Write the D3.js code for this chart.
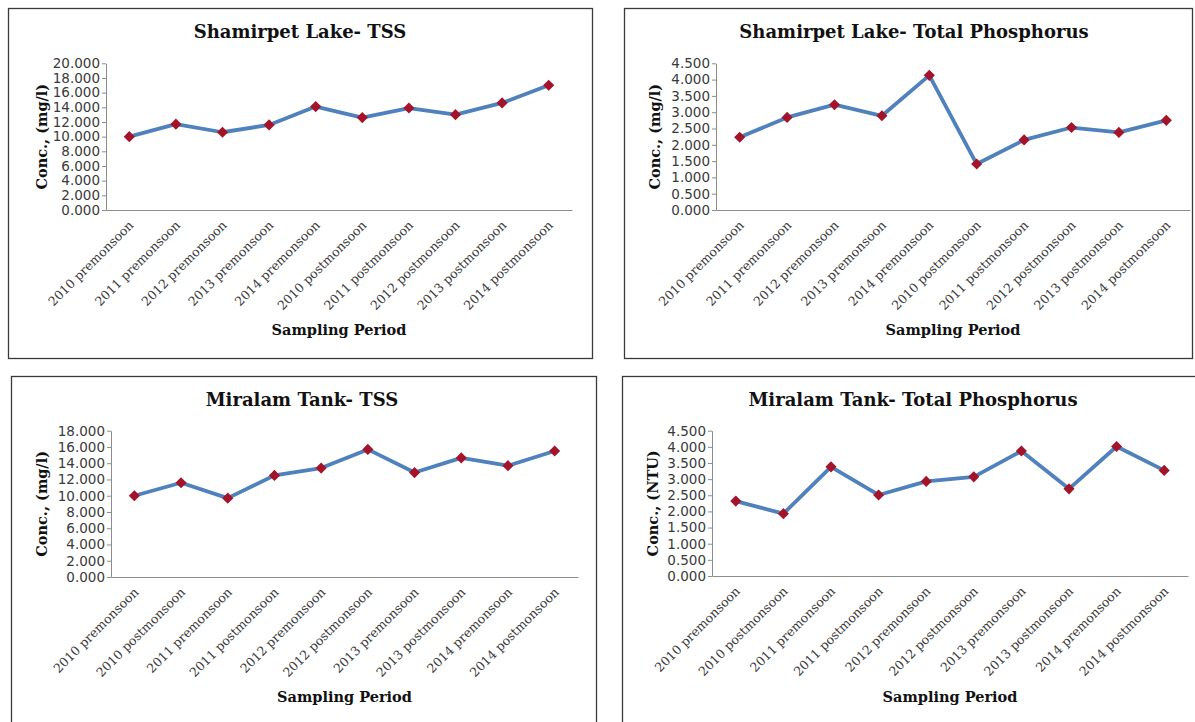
<!DOCTYPE html>
<html>
<head>
<meta charset="utf-8">
<script src="https://cdn.jsdelivr.net/npm/d3@7"></script>
<style>
  html, body { margin: 0; padding: 0; background: #fff; }
  svg { display: block; }
</style>
</head>
<body>
<svg id="chart" width="1195" height="722"></svg>
<script>
// ---------------- DATA ----------------
const catsShamirpet = [
  "2010 premonsoon", "2011 premonsoon", "2012 premonsoon", "2013 premonsoon", "2014 premonsoon",
  "2010 postmonsoon", "2011 postmonsoon", "2012 postmonsoon", "2013 postmonsoon", "2014 postmonsoon"
];
const catsMiralam = [
  "2010 premonsoon", "2010 postmonsoon", "2011 premonsoon", "2011 postmonsoon", "2012 premonsoon",
  "2012 postmonsoon", "2013 premonsoon", "2013 postmonsoon", "2014 premonsoon", "2014 postmonsoon"
];
const shamirpetTSS = [10.0, 11.7, 10.6, 11.6, 14.1, 12.6, 13.9, 13.0, 14.6, 17.0];
const shamirpetTP  = [2.23, 2.84, 3.23, 2.89, 4.13, 1.41, 2.15, 2.53, 2.38, 2.75];
const miralamTSS   = [10.0, 11.6, 9.7, 12.5, 13.4, 15.7, 12.85, 14.65, 13.7, 15.5];
const miralamTP    = [2.32, 1.93, 3.38, 2.51, 2.93, 3.07, 3.87, 2.70, 4.01, 3.27];

const ticksTSS20 = [0, 2, 4, 6, 8, 10, 12, 14, 16, 18, 20];
const ticksTSS18 = [0, 2, 4, 6, 8, 10, 12, 14, 16, 18];
const ticksTP    = [0, 0.5, 1, 1.5, 2, 2.5, 3, 3.5, 4, 4.5];

const titles = [
  "Shamirpet Lake- TSS", "Shamirpet Lake- Total Phosphorus",
  "Miralam Tank- TSS", "Miralam Tank- Total Phosphorus"
];
const yTitles = ["Conc., (mg/l)", "Conc., (mg/l)", "Conc., (mg/l)", "Conc., (NTU)"];
const xTitle = "Sampling Period";

// ---------------- LAYOUT ----------------
const panels = [
  { box: [8, 8, 592, 358],   plot: [106, 63.3, 572, 210], yTitleX: 42,  titleX: 300, titleY: 38,  xTitleY: 335,
    cats: catsShamirpet, values: shamirpetTSS, ticks: ticksTSS20, title: titles[0], yTitle: yTitles[0] },
  { box: [624, 8, 1192, 358], plot: [716, 63.3, 1190, 210], yTitleX: 655, titleX: 914, titleY: 38, xTitleY: 335,
    cats: catsShamirpet, values: shamirpetTP, ticks: ticksTP, title: titles[1], yTitle: yTitles[1] },
  { box: [11, 376, 596, 740], plot: [111, 430.7, 578, 577], yTitleX: 42,  titleX: 302, titleY: 406, xTitleY: 702,
    cats: catsMiralam, values: miralamTSS, ticks: ticksTSS18, title: titles[2], yTitle: yTitles[2] },
  { box: [622, 376, 1200, 740], plot: [712, 430.7, 1188, 576], yTitleX: 653, titleX: 913, titleY: 406, xTitleY: 702,
    cats: catsMiralam, values: miralamTP, ticks: ticksTP, title: titles[3], yTitle: yTitles[3] }
];

const svg = d3.select("#chart");
const lineColor = "#4F81BD";
const markerColor = "#A3142A";
const axisColor = "#8C8C8C";
const textColor = "#3a3a3a";

panels.forEach(p => {
  const g = svg.append("g");
  const [bx0, by0, bx1, by1] = p.box;
  g.append("rect")
    .attr("x", bx0 + 0.5).attr("y", by0 + 0.5)
    .attr("width", bx1 - bx0).attr("height", by1 - by0)
    .attr("fill", "#fff").attr("stroke", "#3a3a3a").attr("stroke-width", 1.3);

  const [px0, py0, px1, py1] = p.plot;
  const x = d3.scaleBand().domain(p.cats).range([px0, px1]);
  const y = d3.scaleLinear().domain([0, d3.max(p.ticks)]).range([py1, py0]);

  // Y axis
  const yAxis = g.append("g")
    .attr("transform", `translate(${px0},0)`)
    .call(d3.axisLeft(y).tickValues(p.ticks).tickFormat(d3.format(".3f")).tickSize(4).tickSizeOuter(0));
  yAxis.select(".domain").attr("stroke", axisColor);
  yAxis.selectAll(".tick line").attr("stroke", axisColor);
  yAxis.selectAll(".tick text")
    .attr("font-family", "DejaVu Sans, Verdana, sans-serif")
    .attr("font-size", "13.5px")
    .attr("fill", textColor)
    .attr("x", -6);

  // X axis
  const xAxis = g.append("g")
    .attr("transform", `translate(0,${py1})`)
    .call(d3.axisBottom(x).tickSize(0).tickSizeOuter(0));
  xAxis.select(".domain").attr("stroke", axisColor);
  xAxis.selectAll(".tick text")
    .attr("font-family", "DejaVu Serif, Georgia, serif")
    .attr("font-size", "12.5px")
    .attr("fill", textColor)
    .attr("text-anchor", "end")
    .attr("x", 0).attr("y", 0).attr("dy", 0)
    .attr("transform", "translate(5,16) rotate(-45)");

  // Line
  const pts = p.cats.map((c, i) => [x(c) + x.bandwidth() / 2, y(p.values[i])]);
  g.append("path")
    .attr("d", d3.line()(pts))
    .attr("fill", "none")
    .attr("stroke", lineColor)
    .attr("stroke-width", 3.8)
    .attr("stroke-linejoin", "round");

  // Markers
  const sym = d3.symbol(d3.symbolSquare, 62);
  g.selectAll(".mk").data(p.cats).join("path")
    .attr("d", sym)
    .attr("transform", (c, i) => `translate(${x(c) + x.bandwidth() / 2},${y(p.values[i])}) rotate(45)`)
    .attr("fill", markerColor);

  // Titles
  g.append("text")
    .attr("x", p.titleX).attr("y", p.titleY)
    .attr("text-anchor", "middle")
    .attr("font-family", "DejaVu Serif, Georgia, serif")
    .attr("font-weight", "bold")
    .attr("font-size", "18px")
    .attr("fill", "#111")
    .text(p.title);

  g.append("text")
    .attr("transform", `translate(${p.yTitleX},${(py0 + py1) / 2}) rotate(-90)`)
    .attr("text-anchor", "middle")
    .attr("dy", "0.35em")
    .attr("font-family", "DejaVu Serif, Georgia, serif")
    .attr("font-weight", "bold")
    .attr("font-size", "14.5px")
    .attr("fill", "#111")
    .text(p.yTitle);

  g.append("text")
    .attr("x", (px0 + px1) / 2).attr("y", p.xTitleY)
    .attr("text-anchor", "middle")
    .attr("font-family", "DejaVu Serif, Georgia, serif")
    .attr("font-weight", "bold")
    .attr("font-size", "14.5px")
    .attr("fill", "#111")
    .text(xTitle);
});
</script>
</body>
</html>
